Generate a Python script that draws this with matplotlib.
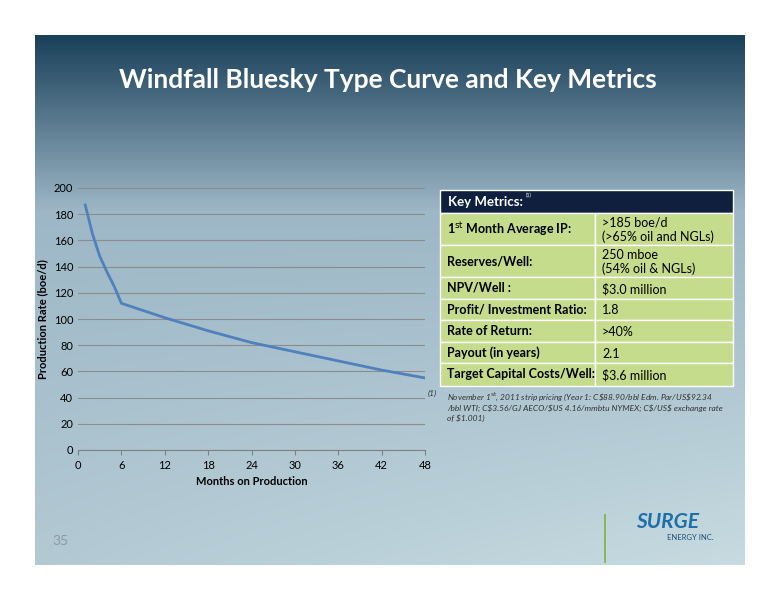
import numpy as np
import matplotlib.pyplot as plt
from matplotlib.patches import Rectangle

plt.rcParams['font.family'] = ['Lato', 'DejaVu Sans']

# type curve data
months = [1, 2, 3, 4, 5, 6, 12, 18, 24, 30, 36, 42, 48]
rate = [187, 165, 148, 136, 125, 112, 101, 91, 82, 75, 68, 61, 55]

metric_names = [r'1$^{\mathrm{st}}$ Month Average IP:', 'Reserves/Well:', 'NPV/Well :',
                'Profit/ Investment Ratio:', 'Rate of Return:', 'Payout (in years)',
                'Target Capital Costs/Well:']
metric_values = ['>185 boe/d\n(>65% oil and NGLs)', '250 mboe\n(54% oil & NGLs)',
                 r'\$3.0 million', '1.8', '>40%', '2.1', r'\$3.6 million']

W, H = 776, 600
fig = plt.figure(figsize=(W / 100, H / 100), dpi=100)
fig.patch.set_facecolor('white')

# slide background in pixel coordinates
bg = fig.add_axes([0, 0, 1, 1])
bg.set_xlim(0, W)
bg.set_ylim(H, 0)
bg.axis('off')
yy, xx = np.mgrid[0:1:300j, 0:1:400j]
top = np.array([0.10, 0.25, 0.35])
mid = np.array([0.62, 0.72, 0.78])
low = np.array([0.78, 0.86, 0.88])
t = np.clip(yy * 3.0, 0, 1)[..., None]
img = top * (1 - t) + mid * t
t2 = np.clip((yy - 0.35) / 0.65, 0, 1)[..., None] * (0.5 + 0.5 * xx[..., None])
img = img * (1 - t2) + low * t2
bg.imshow(img, extent=[35, 745, 565, 35], aspect='auto', zorder=0)
bg.text(388, 80, 'Windfall Bluesky Type Curve and Key Metrics', color='white',
        fontsize=19, fontweight='bold', ha='center', va='center')
bg.text(60, 541, '35', color='#8a9aa5', fontsize=10, ha='center', va='center')
bg.plot([605, 605], [515, 562], color='#7cb342', lw=1.2)
bg.text(668, 522, 'SURGE', color='#1f6fa8', fontsize=15, fontweight='bold',
        style='italic', ha='center', va='center')
bg.text(690, 537, 'ENERGY INC.', color='#1f4f78', fontsize=5.5, ha='center', va='center')

# chart
ax = fig.add_axes([78 / W, 1 - 450 / H, 347 / W, 262 / H])
ax.set_facecolor('none')
ax.plot(months, rate, color='#4f81bd', lw=2)
ax.set_xlim(0, 48)
ax.set_ylim(0, 200)
ax.set_xticks(range(0, 49, 6))
ax.set_yticks(range(0, 201, 20))
ax.yaxis.grid(True, color='#8c8c8c', lw=0.8)
for s in ['top', 'right', 'left']:
    ax.spines[s].set_visible(False)
ax.spines['bottom'].set_color('#808080')
ax.tick_params(axis='y', length=0, labelsize=8)
ax.tick_params(axis='x', labelsize=8, color='#808080')
ax.set_xlabel('Months on Production', fontsize=8, fontweight='bold')
ax.set_ylabel('Production Rate (boe/d)', fontsize=8, fontweight='bold')

# key metrics table
ov = fig.add_axes([0, 0, 1, 1])
ov.set_xlim(0, W)
ov.set_ylim(H, 0)
ov.axis('off')
x0, x1, xs = 440, 733, 595
ov.add_patch(Rectangle((x0, 190), x1 - x0, 23, facecolor='#0f1f3d', edgecolor='white', lw=1))
ov.text(x0 + 8, 202, 'Key Metrics:', color='white', fontsize=9.5, fontweight='bold', va='center')
ov.text(x0 + 86, 195, '(1)', color='white', fontsize=4, va='center')
edges = [213, 245, 277, 299, 320, 342, 363, 386]
for i, (n, v) in enumerate(zip(metric_names, metric_values)):
    ya, yb = edges[i], edges[i + 1]
    ov.add_patch(Rectangle((x0, ya), xs - x0, yb - ya, facecolor='#c4dc8c', edgecolor='white', lw=1))
    ov.add_patch(Rectangle((xs, ya), x1 - xs, yb - ya, facecolor='#c4dc8c', edgecolor='white', lw=1))
    ov.text(x0 + 7, (ya + yb) / 2, n, fontsize=9, fontweight='bold', va='center')
    ov.text(xs + 7, (ya + yb) / 2 + 1, v, fontsize=9, va='center', linespacing=1.15)
ov.text(428, 368, '(1)', fontsize=6, style='italic', color='#333333', va='top',
        transform=ov.transData) if False else None
ov.text(428, 390, '(1)', fontsize=6, style='italic', color='#333333', va='top')
ov.text(447, 390, r'November 1$^{\mathrm{st}}$, 2011 strip pricing (Year 1: C\$88.90/bbl Edm. Par/US\$92.34'
        '\n' r'/bbl WTI; C\$3.56/GJ AECO/\$US 4.16/mmbtu NYMEX; C\$/US\$ exchange rate'
        '\n' r'of \$1.001)', fontsize=6, style='italic', color='#333333', va='top', linespacing=1.3)

fig.savefig('out.png', dpi=100)
